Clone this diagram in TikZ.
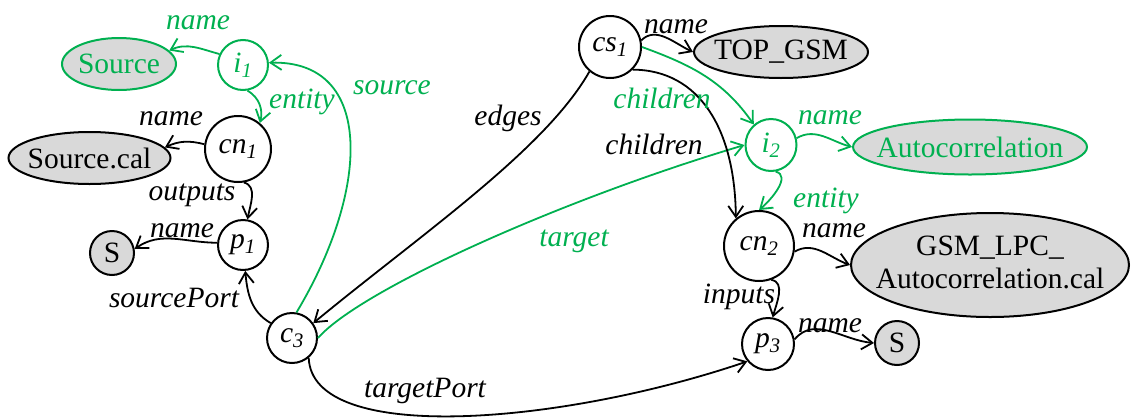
\documentclass[tikz,border=0pt]{standalone}
\usepackage{fontspec}
\setmainfont{Liberation Serif}
\usetikzlibrary{arrows.meta,shapes.geometric}
\definecolor{grn}{HTML}{00B050}
\definecolor{gfill}{HTML}{D9D9D9}
\newcommand{\nlab}[2]{\textit{#1}\textsubscript{\textit{#2}}}
\newcommand{\ztext}[1]{\makebox[0pt]{#1}}
\begin{document}
\begin{tikzpicture}[x=1pt,y=1pt,
  every node/.style={font=\fontsize{29.5}{33}\selectfont},
  circ/.style={ellipse, draw, line width=2pt, inner sep=0pt},
  val/.style={ellipse, draw, line width=2pt, fill=gfill, inner sep=0pt},
  gr/.style={draw=grn, text=grn},
  rel/.style={line width=1.8pt, -{Straight Barb[length=11pt,width=15pt,line width=1.8pt]}},
  grel/.style={rel, draw=grn},
  lbl/.style={anchor=base, inner sep=0pt, font=\fontsize{29.5}{33}\selectfont\itshape},
  glbl/.style={lbl, text=grn},
]
\useasboundingbox (0,0) rectangle (1134,-418);

% nodes
\node[circ, gr, minimum width=50, minimum height=50] (i1) at (243,-65) {\nlab{i}{1}};
\node[val, gr, minimum width=114, minimum height=52] (Source) at (119,-64) {\ztext{Source}};
\node[circ, minimum width=66, minimum height=66] (cn1) at (238,-149) {\nlab{cn}{1}};
\node[val, minimum width=162, minimum height=52] (Sourcecal) at (89.5,-158) {\ztext{Source.cal}};
\node[circ, minimum width=50, minimum height=50] (p1) at (243,-245) {\nlab{p}{1}};
\node[val, minimum width=44, minimum height=44] (S1) at (112,-253) {S};
\node[circ, minimum width=50, minimum height=50] (c3) at (292,-338) {\nlab{c}{3}};
\node[circ, minimum width=62, minimum height=62] (cs1) at (610,-47) {\nlab{cs}{1}};
\node[val, minimum width=174, minimum height=52] (TOP) at (781,-52) {\ztext{TOP\_GSM}};
\node[circ, gr, minimum width=51, minimum height=52] (i2) at (771,-145) {\nlab{i}{2}};
\node[val, gr, minimum width=234, minimum height=55] (Auto) at (970,-147) {\ztext{Autocorrelation}};
\node[circ, minimum width=70, minimum height=70] (cn2) at (759,-246) {\nlab{cn}{2}};
\node[val, minimum width=278, minimum height=104] (GSM) at (990,-265) {\ztext{\begin{tabular}{@{}c@{}}GSM\_LPC\_\\Autocorrelation.cal\end{tabular}}};
\node[circ, minimum width=52, minimum height=52] (p3) at (768,-344) {\nlab{p}{3}};
\node[val, minimum width=44, minimum height=44] (S2) at (897,-343) {S};

% connectors
\draw[grel] (i1.155) to[out=165,in=25] (Source.15);
\draw[grel] (i1.-80) to[out=-30,in=75] (cn1.50);
\draw[rel] (cn1.172) to[out=165,in=25] (Sourcecal.8);
\draw[rel] (cn1.-80) to[out=-15,in=80] (p1.80);
\draw[rel] (p1.175) to[out=180,in=35] (S1.10);
\draw[rel] (c3.145) to[out=150,in=-85] (p1.-85);
\draw[grel] (c3.80) .. controls (370,-190) and (375,-60) .. (i1.5);
\draw[rel] (cs1.-130) .. controls (545,-150) and (420,-235) .. (c3.35);
\draw[grel] (c3.east) .. controls (360,-290) and (560,-200) .. (i2.west);
\draw[rel] (c3.-50) .. controls (312,-445) and (560,-425) .. (p3.-140);
\draw[rel] (cs1.12) to[out=45,in=155] (TOP.180);
\draw[grel] (cs1.0) to[out=-20,in=125] (i2.130);
\draw[rel] (cs1.-45) .. controls (700,-70) and (735,-130) .. (cn2.130);
\draw[grel] (i2.15) to[out=30,in=165] (Auto.180);
\draw[grel] (i2.-80) to[out=-15,in=40] (cn2.90);
\draw[rel] (cn2.-9) to[out=30,in=160] (GSM.180);
\draw[rel] (cn2.-70) to[out=-10,in=75] (p3.80);
\draw[rel] (p3.10) to[out=50,in=175] (S2.180);

% labels
\node[glbl] (l1) at (198,-29) {name};
\node[glbl] (l2) at (302,-108) {entity};
\node[glbl] (l3) at (392,-94) {source};
\node[lbl] (l4) at (171,-125) {name};
\node[lbl] (l5) at (192,-200) {outputs};
\node[lbl] (l6) at (182,-237) {name};
\node[lbl] (l7) at (174,-307) {sourcePort};
\node[lbl] (l8) at (425,-397) {targetPort};
\node[lbl] (l9) at (508,-125) {edges};
\node[glbl] (l10) at (662,-108) {children};
\node[lbl] (l11) at (654,-154) {children};
\node[lbl] (l12) at (676,-33) {name};
\node[glbl] (l13) at (830,-124) {name};
\node[glbl] (l14) at (826,-207) {entity};
\node[lbl] (l15) at (834,-237) {name};
\node[glbl] (l16) at (574,-246) {target};
\node[lbl] (l17) at (739,-303) {inputs};
\node[lbl] (l18) at (830,-332) {name};
\end{tikzpicture}
\end{document}
